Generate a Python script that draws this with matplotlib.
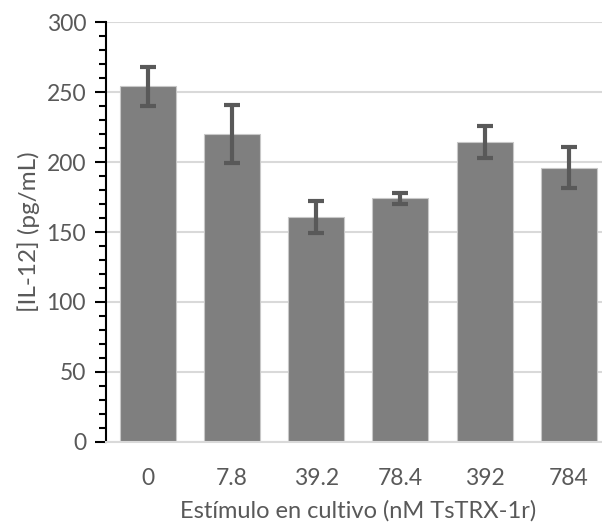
import matplotlib.pyplot as plt
from matplotlib.ticker import MultipleLocator

# IL-12 levels per stimulus concentration
concentrations = ["0", "7.8", "39.2", "78.4", "392", "784"]
il12_mean = [254, 220, 161, 174, 214.5, 196]
il12_err = [14, 20.5, 11.5, 4, 11.5, 14.5]

plt.rcParams['font.family'] = ['Lato', 'DejaVu Sans']
text_color = "#595959"

fig = plt.figure(figsize=(6.02, 5.23), dpi=100)
ax = fig.add_axes([0.1753, 0.1549, 0.8397, 0.803])

x = range(len(concentrations))
ax.bar(x, il12_mean, width=0.665, color="#7f7f7f", edgecolor="#c8c8c8",
       linewidth=0.8, zorder=2)
ax.errorbar(x, il12_mean, yerr=il12_err, fmt="none", ecolor="#595959",
            elinewidth=3, capsize=6, capthick=3, zorder=3)

ax.set_xlim(-0.5, 5.5)
ax.set_ylim(0, 300)
ax.yaxis.set_major_locator(MultipleLocator(50))
ax.yaxis.set_minor_locator(MultipleLocator(10))
ax.set_xticks(list(x))
ax.set_xticklabels(concentrations)

ax.grid(axis="y", color="#d9d9d9", linewidth=1.5, zorder=0)
ax.set_axisbelow(True)

for side in ["top", "right"]:
    ax.spines[side].set_visible(False)
ax.spines["bottom"].set_color("#d9d9d9")
ax.spines["bottom"].set_linewidth(1.5)
ax.spines["left"].set_color("black")
ax.spines["left"].set_linewidth(1.5)

ax.tick_params(axis="y", which="major", length=8, width=1.5, color="black",
               labelsize=16.5, labelcolor=text_color, pad=6)
ax.tick_params(axis="y", which="minor", length=5, width=1.5, color="black")
ax.tick_params(axis="x", length=0, labelsize=16.5, labelcolor=text_color, pad=19)

ax.set_xlabel("Estímulo en cultivo (nM TsTRX-1r)", fontsize=17,
              color=text_color, labelpad=8)
ax.set_ylabel("[IL-12] (pg/mL)", fontsize=17.5, color=text_color, labelpad=5)

fig.savefig("out.png", dpi=100)
